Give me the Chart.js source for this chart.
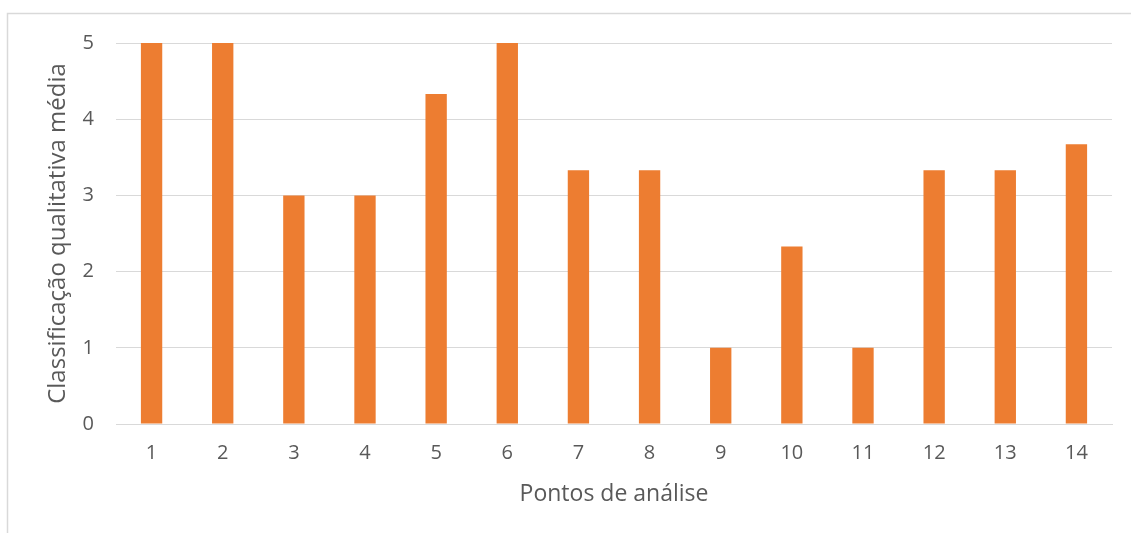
<!DOCTYPE html>
<html>
<head>
<meta charset="utf-8">
<script src="https://cdn.jsdelivr.net/npm/chart.js@4/dist/chart.umd.min.js"></script>
<style>
  html, body { margin: 0; padding: 0; background: #ffffff; }
  #wrap { width: 1131px; height: 533px; position: relative; }
</style>
</head>
<body>
<div id="wrap"><canvas id="chart" width="1131" height="533"></canvas></div>
<script>
// Pontos de análise e classificação média atribuída a cada um
const categories = ['1', '2', '3', '4', '5', '6', '7', '8', '9', '10', '11', '12', '13', '14'];
const mediaValues = [5, 5, 3, 3, 4.33, 5, 3.33, 3.33, 1, 2.33, 1, 3.33, 3.33, 3.67];
const yTicks = [0, 1, 2, 3, 4, 5];

const textColor = '#595959';
const gridColor = '#d9d9d9';
const fontFamily = "'Open Sans', 'Liberation Sans', sans-serif";

// Moldura clara em torno da área do gráfico
const framePlugin = {
  id: 'frame',
  beforeDraw(chart) {
    const ctx = chart.ctx;
    ctx.save();
    ctx.fillStyle = '#ffffff';
    ctx.fillRect(0, 0, chart.width, chart.height);
    ctx.strokeStyle = gridColor;
    ctx.lineWidth = 1.5;
    ctx.strokeRect(7.5, 13.5, chart.width + 20, chart.height + 20);
    ctx.restore();
  }
};

new Chart(document.getElementById('chart'), {
  type: 'bar',
  data: {
    labels: categories,
    datasets: [{
      data: mediaValues,
      backgroundColor: '#ED7D31',
      borderWidth: 0,
      barPercentage: 0.3,
      categoryPercentage: 1.0
    }]
  },
  options: {
    responsive: false,
    animation: false,
    devicePixelRatio: 1,
    layout: { padding: { left: 40, right: 19, top: 43, bottom: 0 } },
    plugins: { legend: { display: false }, tooltip: { enabled: false } },
    scales: {
      x: {
        grid: { display: false, drawTicks: false },
        border: { display: true, color: gridColor, width: 1 },
        ticks: { color: textColor, font: { family: fontFamily, size: 20 }, padding: 17, maxRotation: 0 },
        title: {
          display: true,
          text: 'Pontos de análise',
          color: textColor,
          font: { family: fontFamily, size: 23 },
          padding: { top: 0, bottom: 25 }
        },
        afterFit(scale) { scale.height = 109; }
      },
      y: {
        min: 0,
        max: 5,
        afterBuildTicks(scale) { scale.ticks = yTicks.map(v => ({ value: v })); },
        grid: { color: gridColor, lineWidth: 1, drawTicks: false },
        border: { display: false },
        ticks: { color: textColor, font: { family: fontFamily, size: 20 }, padding: 22 },
        title: {
          display: true,
          text: 'Classificação qualitativa média',
          color: textColor,
          font: { family: fontFamily, size: 24 },
          padding: { top: 4, bottom: 0 }
        },
        afterFit(scale) { scale.width = 76; }
      }
    }
  },
  plugins: [framePlugin]
});
</script>
</body>
</html>
